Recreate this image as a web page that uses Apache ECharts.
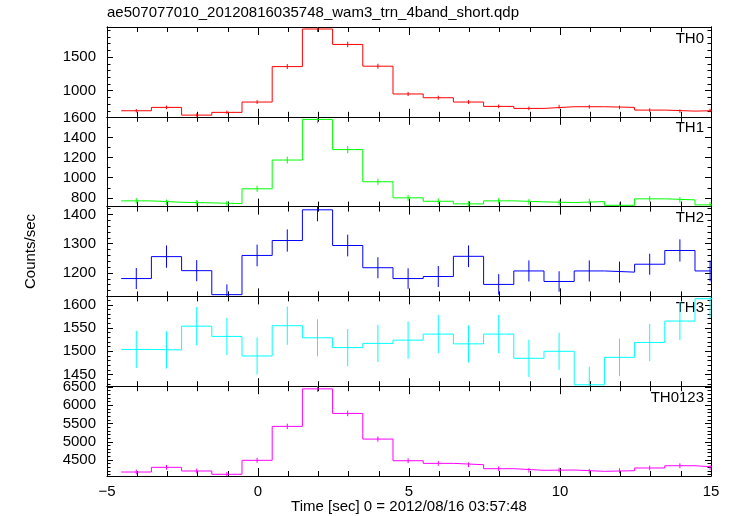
<!DOCTYPE html>
<html><head><meta charset="utf-8">
<script src="https://cdn.jsdelivr.net/npm/echarts@6/dist/echarts.min.js"></script>
<style>html,body{margin:0;padding:0;background:#fff}#c{width:733px;height:516px}</style>
</head><body><div id="c"></div>
<script>
// bin centres (s) and half width
const binTimes = [-4.03,-3.03,-2.03,-1.03,-0.03,0.97,1.97,2.97,3.97,4.97,5.97,6.97,7.97,8.97,9.97,10.97,11.97,12.97,13.97,14.97];
const binHalf = 0.5;

const th0 = [701,751,636,677,831,1359,1919,1689,1365,951,895,831,766,736,761,761,751,711,696,706];
const th0Err = [26,27,25,26,29,37,44,41,37,31,30,29,28,27,28,28,27,27,26,26];
const th1 = [770,756,750,743,890,1176,1580,1280,960,800,766,740,770,760,753,763,726,790,780,730];
const th1Err = [28,27,27,27,30,34,40,36,31,28,28,27,28,28,27,28,27,28,28,27];
const th2 = [1181,1256,1208,1126,1260,1311,1416,1294,1218,1181,1188,1257,1161,1207,1171,1207,1203,1230,1277,1207];
const th2Err = [36,38,36,35,37,38,39,37,36,35,36,37,35,36,35,36,36,36,38,36];
const th3 = [1504,1503,1554,1532,1490,1555,1529,1508,1517,1524,1537,1516,1537,1485,1500,1428,1487,1519,1565,1613];
const th3Err = [40,40,41,40,40,41,40,40,40,40,41,40,41,40,40,39,40,40,41,41];
const th0123 = [4172,4300,4200,4110,4492,5420,6447,5775,5073,4481,4409,4372,4263,4219,4227,4191,4208,4282,4344,4290];
const th0123Err = [65,66,65,64,67,74,80,76,71,67,66,66,65,65,65,65,65,65,66,66];

const panelNames = ['TH0','TH1','TH2','TH3','TH0123'];
const panelColors = ['#ff0000','#00ff00','#0000ff','#00ffff','#ff00ff'];
const panelValues = [th0, th1, th2, th3, th0123];
const panelErrors = [th0Err, th1Err, th2Err, th3Err, th0123Err];
const yRanges = [[611,1949],[713,1606],[1120,1427],[1425,1618],[4063,6520]];
const yMajorTicks = [[1000,1500],[800,1000,1200,1400,1600],[1200,1300,1400],[1450,1500,1550,1600],[4500,5000,5500,6000,6500]];
const yMinorStep = [100,100,20,10,100];
const xTickLabels = [-5,0,5,10,15];

const titleText = 'ae507077010_20120816035748_wam3_trn_4band_short.qdp';
const xTitle = 'Time [sec] 0 = 2012/08/16 03:57:48';
const yTitle = 'Counts/sec';

const FONT = "'Liberation Sans', Arial, Helvetica, sans-serif";
const L = 107, R = 711, T0 = 27, PH = 89.8;

function minorTicks(r, step){
  const out=[]; for(let v=Math.ceil(r[0]/step)*step; v<=r[1]; v+=step) out.push(v); return out;
}

const grids=[], xAxes=[], yAxes=[], series=[], graphics=[];
for(let i=0;i<5;i++){
  grids.push({left:L, width:R-L, top:T0+i*PH, height:PH});
  const xBase = {type:'value', gridIndex:i, min:-5, max:15, interval:5,
    axisLine:{onZero:false, lineStyle:{color:'#000', width:1}},
    axisTick:{inside:true, length:8, lineStyle:{color:'#000'}},
    minorTick:{show:true, splitNumber:5, length:5, lineStyle:{color:'#000'}},
    splitLine:{show:false}, minorSplitLine:{show:false}};
  xAxes.push(Object.assign({}, xBase, {position:'bottom',
    axisLabel: i===4 ? {show:true, margin:8, fontSize:15, color:'#000', fontFamily:FONT,
      customValues: xTickLabels,
      formatter: v => v<0 ? '\u2212'+Math.abs(v) : String(v)} : {show:false}}));
  xAxes.push(Object.assign({}, xBase, {position:'top', axisLabel:{show:false}}));
  const r = yRanges[i];
  const mn = minorTicks(r, yMinorStep[i]);
  const yb = {type:'value', gridIndex:i, min:r[0], max:r[1], splitLine:{show:false},
    axisLine:{show:true, onZero:false, lineStyle:{color:'#000', width:1}}};
  const base = yAxes.length;
  yAxes.push(Object.assign({}, yb, {position:'left',
    axisTick:{inside:true, length:6, customValues:yMajorTicks[i], lineStyle:{color:'#000'}},
    axisLabel:{show:true, customValues:yMajorTicks[i], margin:11, fontSize:15, color:'#000', fontFamily:FONT,
      formatter: v => String(v)}}));
  yAxes.push(Object.assign({}, yb, {position:'left',
    axisTick:{inside:true, length:3.5, customValues:mn, lineStyle:{color:'#000'}}, axisLabel:{show:false}}));
  yAxes.push(Object.assign({}, yb, {position:'right',
    axisTick:{inside:true, length:6, customValues:yMajorTicks[i], lineStyle:{color:'#000'}}, axisLabel:{show:false}}));
  yAxes.push(Object.assign({}, yb, {position:'right',
    axisTick:{inside:true, length:3.5, customValues:mn, lineStyle:{color:'#000'}}, axisLabel:{show:false}}));

  const vals = panelValues[i], errs = panelErrors[i], col = panelColors[i];
  const stepData=[];
  binTimes.forEach((t,k)=>{ stepData.push([t-binHalf, vals[k]]); stepData.push([t+binHalf, vals[k]]); });
  series.push({type:'line', xAxisIndex:i*2, yAxisIndex:base, data:stepData, symbol:'none',
    lineStyle:{color:col, width:1}, clip:true, silent:true});
  series.push({type:'custom', xAxisIndex:i*2, yAxisIndex:base, clip:true, silent:true,
    data: binTimes.map((t,k)=>[t, vals[k], errs[k]]),
    encode:{x:0, y:1},
    renderItem:(params, api)=>{
      const x=api.value(0), v=api.value(1), e=api.value(2);
      const p1=api.coord([x, v-e]), p2=api.coord([x, v+e]);
      return {type:'line', shape:{x1:p1[0], y1:p1[1], x2:p2[0], y2:p2[1]}, style:{stroke:col, lineWidth:1}};
    }});
  graphics.push({type:'text', right:733-704, top:T0+i*PH+4,
    style:{text:panelNames[i], fill:'#000', font:'15px '+FONT, textAlign:'right'}});
}
graphics.push({type:'text', left:L, top:5, style:{text:titleText, fill:'#000', font:'15px '+FONT}});
graphics.push({type:'text', x:(L+R)/2, y:507, style:{text:xTitle, fill:'#000', font:'15px '+FONT, textAlign:'center', textVerticalAlign:'middle'}});
graphics.push({type:'text', x:31, y:T0+2.5*PH, rotation:Math.PI/2,
  style:{text:yTitle, fill:'#000', font:'15px '+FONT, textAlign:'center', textVerticalAlign:'middle'}});

const chart = echarts.init(document.getElementById('c'), null, {renderer:'canvas'});
chart.setOption({animation:false, backgroundColor:'#fff', grid:grids, xAxis:xAxes, yAxis:yAxes, series:series, graphic:graphics});
</script></body></html>
